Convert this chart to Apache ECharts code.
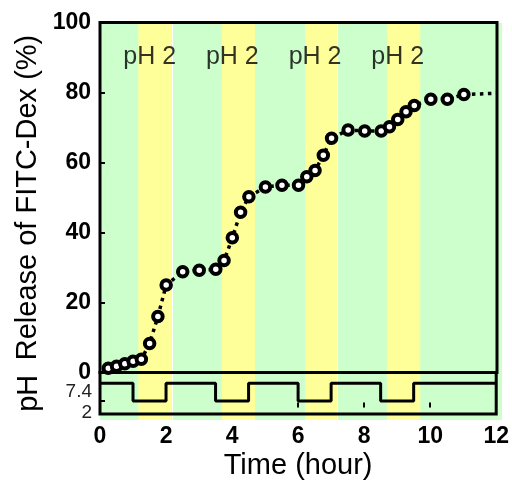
<!DOCTYPE html>
<html><head><meta charset="utf-8">
<script src="https://cdn.jsdelivr.net/npm/echarts@6/dist/echarts.min.js"></script>
<style>html,body{margin:0;padding:0;background:#fff}#c{width:512px;height:481px}</style>
</head><body><div id="c"></div>
<script>
// Release of FITC-Dex (%) vs time (hour)
const releaseTimes  = [0.25, 0.5, 0.75, 1.0, 1.25, 1.5, 1.75, 2.0, 2.5, 3.0, 3.5, 3.75, 4.0, 4.25, 4.5, 5.0, 5.5, 6.0, 6.25, 6.5, 6.75, 7.0, 7.5, 8.0, 8.5, 8.75, 9.0, 9.25, 9.5, 10.0, 10.5, 11.0];
const releaseValues = [1.2, 1.8, 2.5, 3.2, 3.8, 8.3, 16.0, 25.0, 28.8, 29.2, 29.5, 32.0, 38.5, 45.8, 50.2, 53.0, 53.5, 53.5, 55.9, 57.7, 62.1, 66.9, 69.3, 69.0, 69.0, 70.2, 72.3, 74.5, 76.3, 78.1, 78.1, 79.4];
const tailTimes  = [11, 12];
const tailValues = [79.4, 79.8];
// pH program (value holds from each time onwards)
const phTimes  = [0, 1, 2, 3.5, 4.5, 6, 7, 8.5, 9.5, 12];
const phValues = [7.4, 2, 7.4, 2, 7.4, 2, 7.4, 2, 7.4, 7.4];
// shaded acid periods (hours)
const acidBands = [[1.16, 2.17], [3.68, 4.69], [6.2, 7.18], [8.67, 9.68]];
const bandEdges = [2.17, 7.18];
// "pH 2" annotations
const phLabelTimes = [1.5, 4, 6.5, 9];
const phLabelText  = ['pH 2', 'pH 2', 'pH 2', 'pH 2'];
const phLabelLevel = 90.0;
// pH axis ticks and where their labels sit (labels are drawn slightly below the levels in the original)
const phTickValues  = [2, 7.4];
const phLabelValues = [-1.6, 4.75];
const phTickLabels  = ['2', '7.4'];
const yTitle = 'Release\u00a0of\u00a0FITC-Dex\u00a0(%)';

const FONT = "'Liberation Sans', Arial, sans-serif";
const chart = echarts.init(document.getElementById('c'), null, {renderer: 'canvas'});

const bgXMax = 12 * 402 / 397;
const titleStyle = {color: '#000', fontFamily: FONT, fontSize: 29};

chart.setOption({
  animation: false,
  backgroundColor: '#fff',
  graphic: [
    {type: 'text', x: 28, y: 197.5, rotation: Math.PI / 2, z: 20,
     style: {text: yTitle, fill: '#000', fontFamily: FONT, fontSize: 29, width: 1000, overflow: 'none',
             align: 'center', verticalAlign: 'middle'}}
  ],
  grid: [
    {left: 100, top: 22.5, width: 397, height: 350, show: true, backgroundColor: 'rgba(0,0,0,0)', borderColor: '#000', borderWidth: 3, z: 5},
    {left: 100, top: 372.5, width: 397, height: 44.5, show: true, backgroundColor: 'rgba(0,0,0,0)', borderColor: '#000', borderWidth: 3, z: 5},
    {left: 100, top: 23, width: 402, height: 397, show: true, backgroundColor: '#CCFFCC', borderWidth: 0, z: 0}
  ],
  xAxis: [
    {gridIndex: 0, type: 'value', min: 0, max: 12, interval: 2,
     axisLine: {show: false}, axisTick: {show: false}, axisLabel: {show: false}, splitLine: {show: false}},
    {gridIndex: 1, type: 'value', min: 0, max: 12, interval: 2,
     axisLine: {show: false},
     axisTick: {show: true, inside: true, length: 5, lineStyle: {color: '#000', width: 2}},
     axisLabel: {show: true, margin: 11, color: '#000', fontFamily: FONT, fontSize: 23, fontWeight: 'bold'},
     splitLine: {show: false},
     name: 'Time (hour)', nameLocation: 'middle', nameGap: 37,
     nameTextStyle: titleStyle},
    {gridIndex: 2, type: 'value', min: 0, max: bgXMax, show: false}
  ],
  yAxis: [
    {gridIndex: 0, type: 'value', min: 0, max: 100, interval: 20,
     axisLine: {show: false},
     axisTick: {show: true, inside: true, length: 5, lineStyle: {color: '#000', width: 2}},
     axisLabel: {show: true, margin: 9, color: '#000', fontFamily: FONT, fontSize: 23, fontWeight: 'bold'},
     splitLine: {show: false}},
    {gridIndex: 1, type: 'value', min: -2, max: 10.65,
     axisLine: {show: false},
     axisTick: {show: true, inside: true, length: 5, customValues: phTickValues, lineStyle: {color: '#000', width: 2}},
     axisLabel: {show: true, margin: 8, customValues: phLabelValues, color: '#222', fontFamily: FONT, fontSize: 19,
       formatter: v => { const i = phLabelValues.findIndex(x => Math.abs(x - v) < 1e-6); return i >= 0 ? phTickLabels[i] : ''; }},
     splitLine: {show: false},
     name: 'pH', nameLocation: 'middle', nameRotate: 90, nameGap: 57,
     nameTextStyle: titleStyle},
    {gridIndex: 2, type: 'value', min: 0, max: 1, show: false}
  ],
  series: [
    {type: 'line', xAxisIndex: 2, yAxisIndex: 2, data: [], z: 1, silent: true,
     markArea: {silent: true, z: 1, itemStyle: {color: '#FFFF99'},
       data: acidBands.map(b => [{xAxis: b[0]}, {xAxis: b[1]}])},
     markLine: {silent: true, z: 2, symbol: ['none', 'none'], label: {show: false},
       lineStyle: {color: '#fff', width: 1, type: 'solid'},
       data: bandEdges.map(x => ({xAxis: x}))}},
    {type: 'line', xAxisIndex: 1, yAxisIndex: 1, step: 'end', z: 10, silent: true,
     data: phTimes.map((t, i) => [t, phValues[i]]),
     symbol: 'none', lineStyle: {color: '#000', width: 3}},
    {type: 'line', xAxisIndex: 0, yAxisIndex: 0, z: 10, silent: true,
     data: tailTimes.map((t, i) => [t, tailValues[i]]),
     symbol: 'none', lineStyle: {color: '#000', width: 3.5, type: [3.5, 4.5]}},
    {type: 'line', xAxisIndex: 0, yAxisIndex: 0, z: 11, silent: true,
     data: releaseTimes.map((t, i) => [t, releaseValues[i]]),
     symbol: 'circle', symbolSize: 9.5, showAllSymbol: true,
     itemStyle: {color: '#fff', borderColor: '#000', borderWidth: 4},
     lineStyle: {color: '#000', width: 3.5, type: [3.5, 4.5]}},
    {type: 'scatter', xAxisIndex: 0, yAxisIndex: 0, z: 12, silent: true,
     data: phLabelTimes.map((t, i) => [t, phLabelLevel]),
     symbolSize: 1, itemStyle: {color: 'rgba(0,0,0,0)'},
     label: {show: true, position: 'inside', color: '#000', textBorderWidth: 0, fontFamily: FONT, fontSize: 25,
       formatter: p => phLabelText[p.dataIndex]}}
  ]
});
</script></body></html>
